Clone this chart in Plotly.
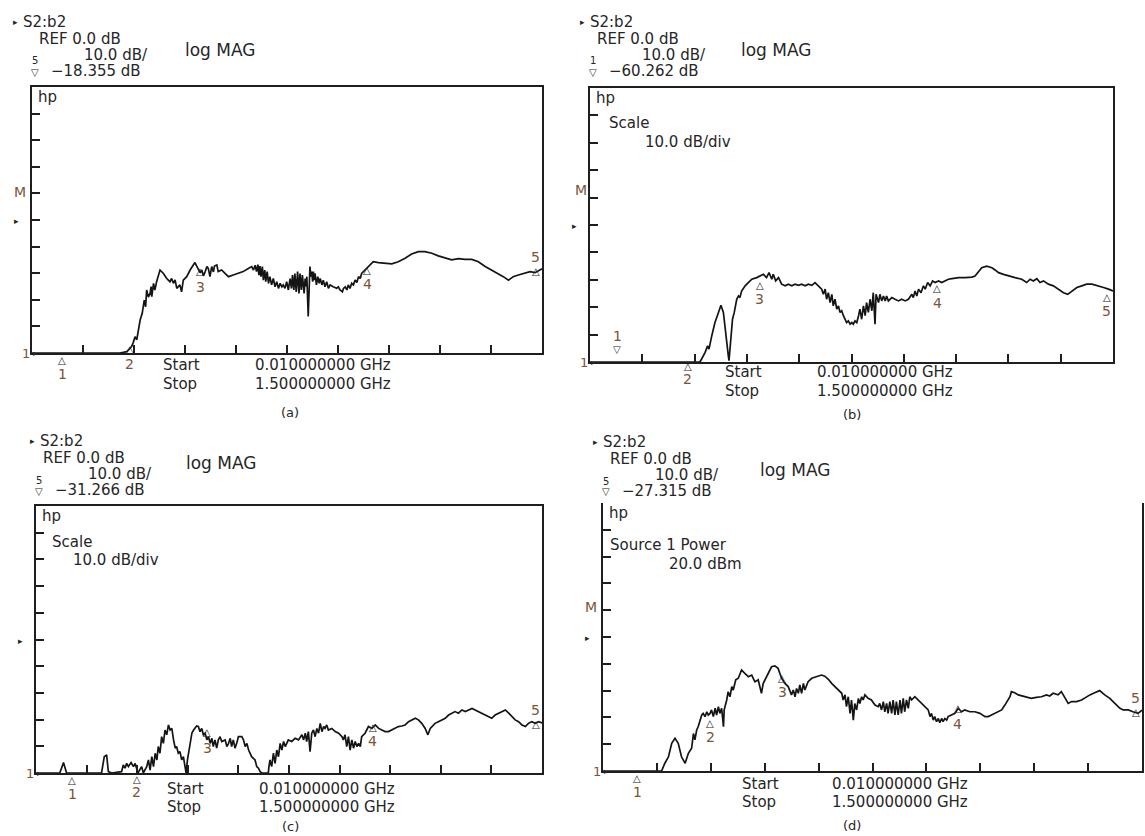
import plotly.graph_objects as go

W, H = 1145, 836

# ---------------- swept S21 magnitude, 0.01-1.5 GHz ----------------
freq_a = [0.010, 0.150, 0.267, 0.287, 0.301, 0.306, 0.311, 0.316, 0.321, 0.326,
          0.332, 0.338, 0.342, 0.345, 0.350, 0.355, 0.358, 0.360, 0.365, 0.369,
          0.374, 0.379, 0.384, 0.394, 0.403, 0.413, 0.418, 0.423, 0.428, 0.433,
          0.442, 0.447, 0.452, 0.462, 0.472, 0.486, 0.496, 0.501, 0.506, 0.511,
          0.516, 0.521, 0.525, 0.530, 0.535, 0.540, 0.543, 0.550, 0.554, 0.564,
          0.574, 0.584, 0.598, 0.613, 0.627, 0.642, 0.652, 0.657, 0.662, 0.666,
          0.670, 0.673, 0.676, 0.679, 0.683, 0.686, 0.690, 0.693, 0.697, 0.701,
          0.705, 0.710, 0.715, 0.720, 0.725, 0.730, 0.735, 0.740, 0.744, 0.749,
          0.754, 0.759, 0.764, 0.768, 0.771, 0.775, 0.778, 0.782, 0.786, 0.790,
          0.793, 0.797, 0.800, 0.805, 0.808, 0.811, 0.813, 0.817, 0.820, 0.822,
          0.825, 0.827, 0.830, 0.832, 0.835, 0.837, 0.841, 0.845, 0.849, 0.852,
          0.857, 0.861, 0.866, 0.871, 0.876, 0.881, 0.890, 0.900, 0.905, 0.910,
          0.917, 0.920, 0.925, 0.930, 0.934, 0.939, 0.944, 0.949, 0.954, 0.959,
          0.964, 0.969, 0.973, 0.983, 0.993, 1.007, 1.022, 1.041, 1.061, 1.080,
          1.100, 1.119, 1.139, 1.158, 1.178, 1.197, 1.217, 1.236, 1.256, 1.275,
          1.295, 1.314, 1.334, 1.353, 1.373, 1.387, 1.402, 1.416, 1.431, 1.450,
          1.465, 1.480, 1.494, 1.500]
level_a = [-50, -50, -50, -49.5, -47.6, -46.0, -43.9, -45.1, -41.3, -37.6,
           -35.1, -30.1, -32.6, -26.3, -29.0, -27.6, -25.0, -28.8, -23.8, -26.3,
           -23.2, -21.0, -18.8, -20.1, -21.9, -23.2, -22.0, -23.8, -22.5, -25.7,
           -24.4, -27.0, -22.6, -21.3, -18.8, -16.0, -18.2, -19.8, -18.8, -21.0,
           -19.4, -17.5, -18.2, -21.3, -17.5, -19.5, -17.3, -16.9, -19.4, -18.8,
           -20.1, -21.3, -20.7, -20.1, -19.4, -18.2, -17.5, -18.8, -17.0, -19.4,
           -16.8, -20.7, -17.3, -21.3, -17.5, -22.6, -18.8, -23.2, -19.4, -23.8,
           -21.3, -24.4, -22.0, -25.1, -23.2, -25.7, -23.8, -25.1, -24.4, -25.7,
           -23.2, -26.3, -22.0, -25.7, -20.7, -26.3, -20.1, -27.0, -19.4, -27.6,
           -20.1, -26.3, -20.7, -27.6, -22.0, -25.0, -21.3, -36.3, -18.2, -17.5,
           -21.3, -19.4, -23.2, -19.4, -22.6, -20.1, -24.4, -21.3, -23.8, -22.0,
           -24.4, -22.6, -25.1, -23.2, -25.7, -24.4, -25.1, -25.7, -25.1, -26.3,
           -27.0, -25.7, -25.1, -26.3, -24.4, -25.7, -23.8, -24.4, -22.6, -23.5,
           -21.3, -22.0, -20.1, -18.8, -17.5, -15.7, -16.0, -16.3, -16.5, -15.7,
           -14.4, -12.8, -11.9, -11.9, -12.5, -13.5, -14.4, -15.0, -14.5, -14.8,
           -14.8, -15.7, -17.5, -18.8, -20.1, -21.3, -22.6, -21.3, -20.7, -20.1,
           -19.4, -19.8, -18.8, -18.355]

freq_b = [0.010, 0.323, 0.328, 0.338, 0.345, 0.349, 0.357, 0.366, 0.376, 0.383,
          0.390, 0.395, 0.399, 0.404, 0.406, 0.412, 0.416, 0.421, 0.428, 0.433,
          0.437, 0.442, 0.452, 0.461, 0.471, 0.485, 0.494, 0.504, 0.513, 0.520,
          0.528, 0.532, 0.539, 0.547, 0.556, 0.566, 0.575, 0.585, 0.594, 0.604,
          0.613, 0.623, 0.632, 0.642, 0.651, 0.661, 0.670, 0.675, 0.680, 0.684,
          0.689, 0.694, 0.699, 0.703, 0.708, 0.713, 0.718, 0.722, 0.727, 0.732,
          0.737, 0.741, 0.746, 0.751, 0.756, 0.760, 0.765, 0.770, 0.775, 0.779,
          0.784, 0.789, 0.794, 0.798, 0.803, 0.808, 0.813, 0.817, 0.822, 0.825,
          0.832, 0.836, 0.841, 0.846, 0.851, 0.855, 0.860, 0.870, 0.879, 0.889,
          0.898, 0.908, 0.917, 0.927, 0.931, 0.936, 0.941, 0.946, 0.953, 0.960,
          0.965, 0.972, 0.979, 0.986, 0.993, 1.003, 1.012, 1.022, 1.031, 1.041,
          1.060, 1.079, 1.098, 1.107, 1.117, 1.126, 1.140, 1.155, 1.164, 1.174,
          1.188, 1.202, 1.221, 1.240, 1.254, 1.264, 1.273, 1.283, 1.292, 1.302,
          1.316, 1.330, 1.345, 1.359, 1.371, 1.383, 1.397, 1.411, 1.425, 1.440,
          1.459, 1.473, 1.487, 1.500]
level_b = [-50, -50, -48.9, -46.5, -44.1, -45.3, -40.4, -35.6, -31.9, -29.3,
           -31.9, -38.0, -44.1, -47.7, -49.5, -41.6, -34.4, -31.9, -27.1, -25.9,
           -26.5, -24.1, -22.2, -21.0, -19.8, -19.2, -18.6, -18.0, -19.2, -17.4,
           -19.8, -18.0, -20.4, -19.2, -21.6, -22.2, -21.6, -22.2, -21.6, -22.0,
           -21.6, -22.2, -21.6, -22.0, -21.0, -22.2, -23.4, -25.3, -23.4, -27.1,
           -24.7, -28.3, -25.3, -29.5, -27.1, -30.7, -29.5, -31.9, -31.3, -33.1,
           -34.4, -35.6, -35.0, -36.2, -35.6, -36.2, -35.0, -35.6, -33.1, -30.7,
           -34.4, -29.5, -33.1, -28.3, -31.9, -27.1, -31.3, -24.7, -36.2, -25.3,
           -28.3, -25.3, -27.7, -25.9, -27.7, -25.9, -27.7, -26.5, -27.1, -27.7,
           -27.1, -27.7, -27.1, -25.3, -26.5, -24.1, -25.9, -23.4, -24.7, -22.2,
           -23.4, -21.0, -22.2, -20.4, -21.0, -20.4, -21.0, -20.4, -19.8, -19.6,
           -19.2, -19.2, -19.0, -18.6, -16.8, -15.6, -15.0, -15.6, -16.4, -17.4,
           -18.0, -18.6, -19.2, -19.8, -21.0, -19.8, -20.4, -19.6, -21.0, -20.4,
           -21.6, -22.2, -23.4, -24.7, -25.3, -24.1, -22.8, -22.2, -21.6, -21.6,
           -22.2, -22.8, -23.4, -24.1]

freq_c = [0.010, 0.080, 0.091, 0.100, 0.203, 0.211, 0.218, 0.223, 0.233, 0.262,
          0.267, 0.272, 0.277, 0.282, 0.290, 0.297, 0.302, 0.310, 0.321, 0.326,
          0.336, 0.341, 0.346, 0.351, 0.356, 0.361, 0.366, 0.370, 0.375, 0.380,
          0.385, 0.390, 0.395, 0.400, 0.405, 0.410, 0.415, 0.420, 0.424, 0.429,
          0.434, 0.439, 0.444, 0.449, 0.452, 0.456, 0.459, 0.464, 0.469, 0.474,
          0.478, 0.483, 0.488, 0.493, 0.498, 0.503, 0.508, 0.513, 0.518, 0.523,
          0.528, 0.532, 0.537, 0.542, 0.547, 0.552, 0.557, 0.567, 0.572, 0.577,
          0.582, 0.586, 0.591, 0.596, 0.601, 0.606, 0.616, 0.621, 0.626, 0.631,
          0.636, 0.645, 0.655, 0.660, 0.665, 0.670, 0.675, 0.685, 0.694, 0.696,
          0.699, 0.704, 0.709, 0.714, 0.719, 0.724, 0.729, 0.734, 0.739, 0.744,
          0.753, 0.763, 0.773, 0.783, 0.793, 0.798, 0.803, 0.807, 0.812, 0.817,
          0.822, 0.827, 0.832, 0.837, 0.842, 0.847, 0.852, 0.857, 0.861, 0.866,
          0.871, 0.881, 0.891, 0.901, 0.911, 0.915, 0.920, 0.925, 0.930, 0.935,
          0.940, 0.945, 0.950, 0.955, 0.960, 0.965, 0.969, 0.979, 0.989, 0.999,
          1.009, 1.019, 1.028, 1.038, 1.048, 1.058, 1.068, 1.077, 1.087, 1.097,
          1.107, 1.117, 1.127, 1.136, 1.146, 1.156, 1.164, 1.171, 1.176, 1.185,
          1.195, 1.205, 1.215, 1.225, 1.235, 1.244, 1.254, 1.264, 1.274, 1.284,
          1.294, 1.303, 1.313, 1.323, 1.333, 1.343, 1.352, 1.362, 1.372, 1.382,
          1.392, 1.402, 1.411, 1.421, 1.431, 1.441, 1.451, 1.460, 1.470, 1.480,
          1.490, 1.500]
level_c = [-50, -50, -46.1, -50, -50, -43.9, -43.2, -49.5, -50, -49.5,
           -47.0, -48.2, -46.4, -47.6, -46.1, -47.6, -46.4, -50, -47.6, -50,
           -47.6, -45.1, -48.9, -43.9, -47.6, -42.6, -45.1, -40.1, -42.6, -36.4,
           -38.9, -33.9, -35.7, -32.0, -33.9, -33.3, -37.6, -40.7, -40.1, -42.6,
           -42.0, -45.1, -43.9, -48.2, -50, -45.1, -42.6, -38.9, -35.1, -33.9,
           -33.3, -32.4, -32.6, -34.5, -33.3, -35.7, -35.1, -37.6, -36.4, -38.9,
           -37.0, -40.1, -37.6, -40.7, -37.6, -36.4, -38.2, -37.6, -40.1, -38.9,
           -37.0, -40.1, -37.6, -40.7, -38.9, -36.4, -36.4, -37.6, -40.1, -38.9,
           -41.4, -43.9, -45.1, -47.6, -48.2, -49.5, -50, -50, -50, -47.6,
           -45.1, -47.6, -42.6, -46.4, -41.4, -43.9, -38.9, -41.4, -38.2, -40.1,
           -37.6, -38.2, -37.0, -37.6, -35.7, -37.6, -35.1, -38.2, -34.5, -42.0,
           -35.1, -33.9, -36.4, -33.3, -35.1, -31.4, -34.5, -32.6, -33.3, -32.0,
           -33.9, -33.3, -34.5, -35.1, -36.4, -37.6, -35.7, -40.1, -36.4, -41.4,
           -37.6, -40.7, -38.2, -40.1, -38.9, -40.1, -36.4, -35.1, -32.6, -33.3,
           -32.0, -33.3, -33.9, -34.5, -34.5, -33.9, -33.3, -32.6, -32.4, -32.0,
           -30.8, -30.1, -29.5, -30.1, -31.4, -33.3, -35.7, -33.3, -32.6, -31.4,
           -30.8, -30.1, -29.5, -28.3, -27.6, -27.0, -27.6, -26.4, -27.0, -26.4,
           -25.8, -26.4, -27.0, -27.6, -28.3, -28.9, -29.5, -28.3, -27.6, -27.0,
           -26.4, -27.6, -28.9, -30.1, -30.8, -32.0, -32.6, -31.4, -30.8, -31.4,
           -30.8, -31.266]

freq_d = [0.010, 0.172, 0.181, 0.191, 0.200, 0.209, 0.218, 0.227, 0.237, 0.246,
          0.255, 0.260, 0.264, 0.269, 0.273, 0.278, 0.283, 0.287, 0.292, 0.297,
          0.301, 0.306, 0.310, 0.315, 0.320, 0.324, 0.329, 0.333, 0.338, 0.343,
          0.345, 0.352, 0.356, 0.361, 0.366, 0.370, 0.377, 0.384, 0.393, 0.402,
          0.412, 0.421, 0.430, 0.439, 0.444, 0.448, 0.453, 0.458, 0.467, 0.476,
          0.485, 0.494, 0.499, 0.504, 0.513, 0.522, 0.531, 0.536, 0.541, 0.545,
          0.550, 0.554, 0.559, 0.564, 0.568, 0.577, 0.587, 0.596, 0.605, 0.614,
          0.623, 0.633, 0.642, 0.651, 0.660, 0.670, 0.674, 0.679, 0.683, 0.688,
          0.693, 0.697, 0.702, 0.706, 0.711, 0.716, 0.720, 0.725, 0.729, 0.734,
          0.743, 0.752, 0.762, 0.771, 0.775, 0.780, 0.785, 0.789, 0.794, 0.798,
          0.803, 0.808, 0.812, 0.817, 0.821, 0.826, 0.831, 0.835, 0.840, 0.844,
          0.849, 0.854, 0.858, 0.863, 0.872, 0.881, 0.891, 0.900, 0.909, 0.914,
          0.918, 0.923, 0.927, 0.932, 0.937, 0.941, 0.946, 0.950, 0.955, 0.960,
          0.964, 0.973, 0.983, 0.992, 1.001, 1.010, 1.024, 1.038, 1.052, 1.066,
          1.075, 1.084, 1.093, 1.102, 1.112, 1.121, 1.130, 1.135, 1.139, 1.148,
          1.158, 1.176, 1.194, 1.208, 1.222, 1.236, 1.245, 1.254, 1.268, 1.277,
          1.287, 1.296, 1.305, 1.319, 1.333, 1.346, 1.356, 1.369, 1.383, 1.397,
          1.411, 1.425, 1.439, 1.448, 1.462, 1.475, 1.489, 1.500]
level_d = [-50, -50, -47.1, -44.7, -39.7, -37.8, -39.7, -44.7, -47.1, -43.4,
           -41.5, -36.0, -38.4, -34.7, -33.5, -31.0, -29.1, -28.5, -29.7, -27.9,
           -29.1, -28.5, -27.2, -29.7, -26.6, -29.1, -26.0, -28.5, -26.6, -33.5,
           -27.2, -23.5, -20.4, -22.3, -18.5, -19.8, -16.0, -15.4, -12.3, -13.6,
           -14.8, -14.2, -16.7, -16.0, -18.5, -21.0, -17.3, -16.0, -13.6, -11.1,
           -10.8, -11.7, -13.6, -15.4, -17.3, -18.5, -21.6, -19.8, -22.3, -19.2,
           -21.0, -17.9, -21.0, -17.3, -19.8, -16.7, -15.4, -15.0, -14.6, -14.2,
           -14.6, -15.8, -17.3, -18.5, -19.8, -21.0, -23.5, -21.6, -26.0, -22.3,
           -28.5, -23.5, -31.0, -24.8, -27.2, -22.9, -24.8, -22.3, -23.5, -21.6,
           -22.9, -23.5, -25.4, -26.0, -24.8, -27.2, -24.1, -27.9, -24.8, -28.5,
           -24.1, -28.5, -23.5, -29.1, -24.1, -29.1, -23.5, -28.5, -22.9, -27.9,
           -23.5, -26.6, -22.3, -23.5, -22.3, -23.5, -24.8, -26.0, -27.2, -29.7,
           -28.5, -31.0, -29.7, -31.6, -30.4, -32.0, -30.4, -31.6, -30.4, -31.0,
           -29.7, -29.1, -28.5, -26.6, -27.9, -27.2, -27.9, -27.9, -28.5, -29.7,
           -29.7, -29.1, -28.5, -27.9, -27.2, -25.4, -23.5, -22.3, -20.4, -20.8,
           -21.6, -22.3, -22.9, -22.5, -22.3, -21.6, -22.0, -21.0, -21.6, -20.4,
           -22.9, -24.8, -24.1, -24.1, -23.5, -22.3, -21.6, -20.8, -20.0, -21.6,
           -22.9, -24.8, -26.6, -27.2, -27.2, -27.9, -28.5, -27.315]

# marker frequencies (GHz) and the level each marker symbol sits at (dB)
mk_a_freq = [0.098, 0.296, 0.501, 0.989, 1.500]
mk_a_level = [-50, -50, -19.5, -18.8, -18.355]
mk_b_freq = [0.087, 0.289, 0.494, 0.999, 1.500]
mk_b_level = [-50, -50, -21.9, -23.0, -26.6]
mk_c_freq = [0.116, 0.307, 0.514, 1.002, 1.500]
mk_c_level = [-50, -50, -35.0, -32.8, -31.266]
mk_d_freq = [0.104, 0.306, 0.505, 0.991, 1.500]
mk_d_level = [-50, -32.1, -15.3, -26.5, -27.315]
mk_labels = ["1", "2", "3", "4", "5"]

# active-marker readouts shown in each header
readout_marker = ["5", "1", "5", "5"]
readout_value = ["\u221218.355 dB", "\u221260.262 dB", "\u221231.266 dB", "\u221227.315 dB"]

F_START, F_STOP = 0.01, 1.5
DB_BOTTOM, DB_TOP = -50, 50

INK = "#262626"
MARK_INK = "#7a5535"
FONT = "DejaVu Sans"

# screen frames in pixels: left, top, right, bottom
frames = {
    "a": (32, 87, 542, 353),
    "b": (590, 88, 1113, 362),
    "c": (36, 506, 542, 773),
    "d": (603, 503, 1142, 771),
}
axis_ids = {"a": "", "b": "2", "c": "3", "d": "4"}

fig = go.Figure()
traces = {"a": (freq_a, level_a), "b": (freq_b, level_b),
          "c": (freq_c, level_c), "d": (freq_d, level_d)}

layout = dict(
    width=W, height=H, margin=dict(l=0, r=0, t=0, b=0),
    paper_bgcolor="white", plot_bgcolor="white", showlegend=False,
)

for key, (l, t, r, b) in frames.items():
    n = axis_ids[key]
    fx, fy = traces[key]
    fig.add_trace(go.Scatter(
        x=fx, y=fy, mode="lines", xaxis="x" + n, yaxis="y" + n,
        line=dict(color="#141414", width=1.7), hoverinfo="skip"))
    top_line = key != "d"
    layout["xaxis" + n] = dict(
        domain=[l / W, r / W], range=[F_START, F_STOP], anchor="y" + n,
        showline=True, linecolor="#1e1e1e", linewidth=2, mirror=top_line,
        ticks="inside", ticklen=8, tickwidth=1.5, tickcolor="#1e1e1e",
        tick0=F_START, dtick=(F_STOP - F_START) / 10,
        showticklabels=False, showgrid=False, zeroline=False, fixedrange=True)
    layout["yaxis" + n] = dict(
        domain=[1 - b / H, 1 - t / H], range=[DB_BOTTOM, DB_TOP], anchor="x" + n,
        showline=True, linecolor="#1e1e1e", linewidth=2, mirror=True,
        ticks="inside", ticklen=8, tickwidth=1.5, tickcolor="#1e1e1e",
        tick0=DB_BOTTOM, dtick=10,
        showticklabels=False, showgrid=False, zeroline=False, fixedrange=True)

fig.update_layout(**layout)

ann = []


def txt(x, y, s, size=15, anchor="left", color=INK):
    ann.append(dict(x=x / W, y=1 - y / H, xref="paper", yref="paper", text=s,
                    showarrow=False, xanchor=anchor, yanchor="middle",
                    font=dict(family=FONT, size=size, color=color)))


def marker(key, f, lvl, label, sym, sym_dy, num_dy, anchor):
    n = axis_ids[key]
    ann.append(dict(x=f, y=lvl, xref="x" + n, yref="y" + n, text=sym,
                    showarrow=False, xanchor=anchor, yanchor="middle",
                    yshift=sym_dy, font=dict(family=FONT, size=10, color=INK)))
    ann.append(dict(x=f, y=lvl, xref="x" + n, yref="y" + n, text=label,
                    showarrow=False, xanchor=anchor, yanchor="middle",
                    yshift=num_dy, font=dict(family=FONT, size=14, color=MARK_INK)))


# headers: (x0, y of first line)
headers = {"a": (10, 22), "b": (577, 22), "c": (27, 441), "d": (590, 442)}
logmag_pos = {"a": (183, 50), "b": (739, 50), "c": (184, 463), "d": (758, 470)}
for i, key in enumerate(["a", "b", "c", "d"]):
    x0, y0 = headers[key]
    l, t, r, b = frames[key]
    txt(x0 + 1, y0, "\u25b8", size=9)
    txt(x0 + 11, y0, "S2:b2", size=15)
    txt(l + 5, y0 + 17, "REF 0.0 dB", size=15)
    txt(l + 50, y0 + 33, "10.0 dB/", size=15)
    txt(logmag_pos[key][0], logmag_pos[key][1], "log MAG", size=17)
    txt(l + 3, y0 + 39, readout_marker[i], size=10, anchor="center")
    txt(l + 3, y0 + 50, "\u25bd", size=10, anchor="center")
    txt(l + 17, y0 + 49, readout_value[i], size=15)
    txt(l + 4, t + 10, "hp", size=15)
    txt(l, b, "1", size=13, anchor="right", color=MARK_INK)
    txt(l - 1, b, "\u25b8", size=8, anchor="left")
    txt(l - 16, (t + b) / 2 + 1, "\u25b8", size=9, anchor="center")

# channel marker "M" beside the graticule
txt(12, 192, "M", size=14, color=MARK_INK)
txt(573, 190, "M", size=14, color=MARK_INK)
txt(583, 607, "M", size=14, color=MARK_INK)

# scale / source annotations inside the screens
txt(607, 123, "Scale", size=15)
txt(643, 142, "10.0 dB/div", size=15)
txt(50, 542, "Scale", size=15)
txt(71, 560, "10.0 dB/div", size=15)
txt(608, 545, "Source 1 Power", size=15)
txt(667, 564, "20.0 dBm", size=15)

# start / stop frequency lines under each screen
startstop = {"a": (161, 253, 365, 384, 290, 412), "b": (723, 815, 372, 391, 852, 414),
             "c": (165, 257, 789, 807, 290, 826), "d": (740, 830, 784, 802, 852, 825)}
captions = {"a": "(a)", "b": "(b)", "c": "(c)", "d": "(d)"}
for key, (xs, xv, ys, yp, xc, yc) in startstop.items():
    txt(xs, ys, "Start", size=15)
    txt(xv, ys, "0.010000000 GHz", size=15)
    txt(xs, yp, "Stop", size=15)
    txt(xv, yp, "1.500000000 GHz", size=15)
    txt(xc, yc, captions[key], size=13, anchor="center")

# markers: symbol and number offsets in pixels, horizontal anchoring
mk_sets = {
    "a": (mk_a_freq, mk_a_level, ["\u25b3"] * 5, [-7, 4, 0, 0, -3], [-21, -11, -15, -14, 12],
          ["center"] * 4 + ["right"]),
    "b": (mk_b_freq, mk_b_level, ["\u25bd", "\u25b3", "\u25b3", "\u25b3", "\u25b3"],
          [13, -4, 0, 0, 0], [26, -17, -14, -15, -13], ["center"] * 4 + ["right"]),
    "c": (mk_c_freq, mk_c_level, ["\u25b3"] * 5, [-7, -6, 0, 0, -2], [-21, -19, -15, -14, 13],
          ["center"] * 4 + ["right"]),
    "d": (mk_d_freq, mk_d_level, ["\u25b3"] * 5, [-7, 0, 0, 0, -2], [-21, -14, -14, -16, 12],
          ["center"] * 4 + ["right"]),
}
for key, (fs, ls, syms, sdy, ndy, anc) in mk_sets.items():
    for f, lv, lab, sy, s_dy, n_dy, a in zip(fs, ls, mk_labels, syms, sdy, ndy, anc):
        marker(key, f, lv, lab, sy, s_dy, n_dy, a)

fig.update_layout(annotations=ann)
fig.write_html("out.html")
